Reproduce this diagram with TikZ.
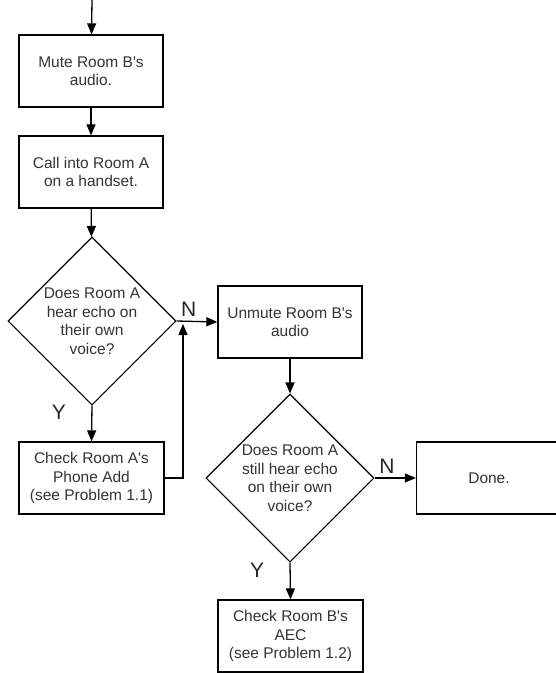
\documentclass[tikz,border=0pt]{standalone}
\usepackage{fontspec}
\setmainfont{Liberation Sans}
\usetikzlibrary{shapes.geometric,arrows.meta}
\newcommand{\apos}{\textquotesingle}
\begin{document}
\begin{tikzpicture}[x=1pt, y=-1pt,
    font=\fontsize{15.5}{18.5}\selectfont,
    stepbox/.style={draw, line width=1.3pt, minimum width=144pt, minimum height=72pt, align=center, text=black!80},
    ask/.style={draw, diamond, aspect=1, line width=1.1pt, minimum size=168pt, inner sep=0pt},
    flow/.style={line width=1.3pt, -{Triangle[length=11pt,width=9pt]}},
    yn/.style={font=\fontsize{21}{21}\selectfont, text=black!85}]
    \useasboundingbox (0,0) rectangle (556,673);
    \coordinate (start) at (92,0);
    \node[stepbox] (mute) at (91,71) {Mute Room B\apos s\\audio.};
    \node[stepbox] (call) at (91,172) {Call into Room A\\on a handset.};
    \node[ask, label={[align=center, text=black!80]center:Does Room A\\hear echo on\\their own\\voice?}] (askA) at (92,321) {};
    \node[stepbox] (unmute) at (290,322) {Unmute Room B\apos s\\audio};
    \node[ask, label={[align=center, text=black!80]center:Does Room A\\still hear echo\\on their own\\voice?}] (askB) at (290,478) {};
    \node[stepbox, minimum width=145pt] (checkA) at (91.5,478) {Check Room A\apos s\\Phone Add\\(see Problem 1.1)};
    \node[stepbox, minimum width=145pt] (done) at (489,478) {Done.};
    \node[stepbox, minimum width=145pt] (checkB) at (290.5,636) {Check Room B\apos s\\AEC\\(see Problem 1.2)};
    \coordinate (back) at (183,324);
    \draw[flow] (start) -- (mute);
    \draw[flow] (mute) -- (call);
    \draw[flow] (call) -- (askA);
    \draw[flow] (askA.east) -- (unmute.west) node[yn, pos=0.3, above=1pt] (noA) {N};
    \draw[flow] (askA.south) -- (checkA.north) node[yn, pos=0.2, left=22pt] (yesA) {Y};
    \draw[flow] (checkA.east) -| (back); % back to the N branch
    \draw[flow] (unmute) -- (askB);
    \draw[flow] (askB.east) -- (done.west) node[yn, pos=0.3, above=1pt] (noB) {N};
    \draw[flow] (askB.south) -- (checkB.north) node[yn, pos=0.2, left=22pt] (yesB) {Y};
\end{tikzpicture}
\end{document}
